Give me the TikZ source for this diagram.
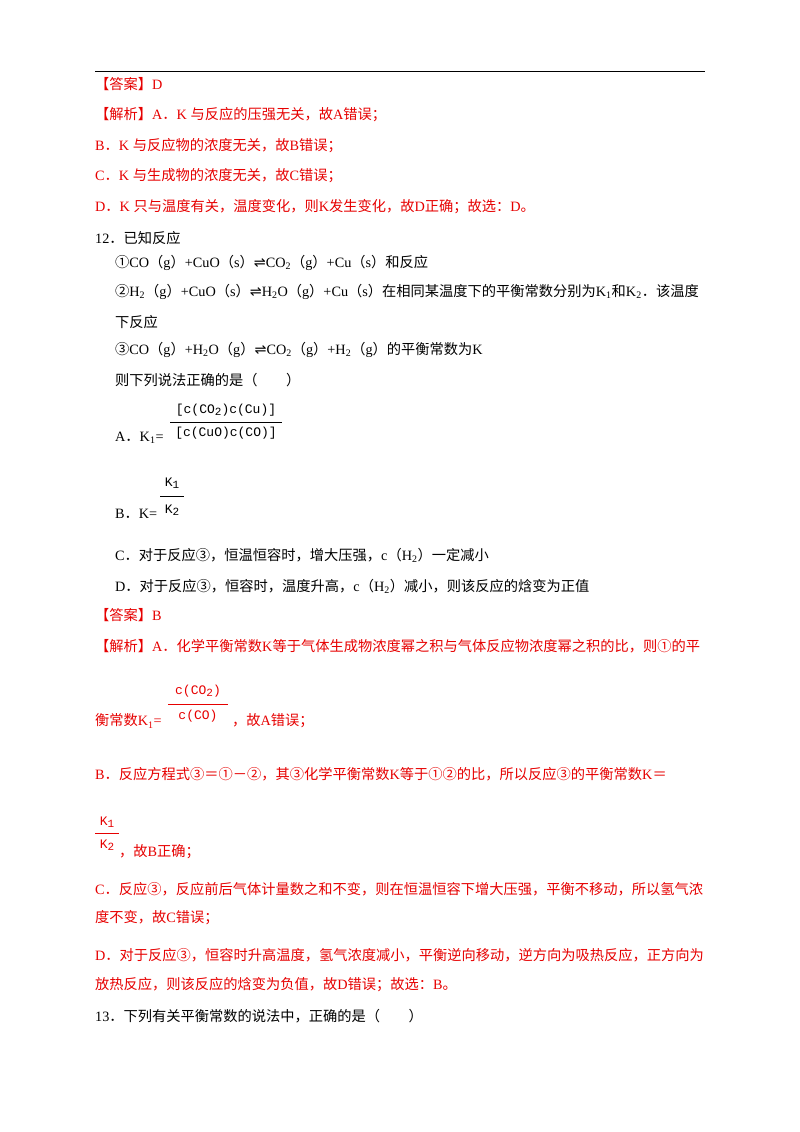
\documentclass[tikz,border=0pt]{standalone}
\usepackage{fontspec}
\setmainfont{Liberation Serif}
\newfontfamily\cjk{Noto Sans CJK SC}
\newfontfamily\dv{DejaVu Sans}
\newfontfamily\mono{Liberation Mono}
\newcommand\zh[1]{{\cjk #1}}
\newcommand\eqa{{\dv ⇌}}
\newcommand\sub[1]{\textsubscript{#1}}
\newcommand\msub[1]{\raisebox{-0.3ex}{\fontsize{11}{12}\selectfont #1}}
\definecolor{ans}{RGB}{230,0,0}
\begin{document}
\begin{tikzpicture}[x=1pt,y=-1pt,
  t/.style={anchor=west,inner sep=0pt,font=\fontsize{14.25}{17}\selectfont},
  r/.style={t,text=ans},
  fr/.style={inner sep=0pt,font=\mono\fontsize{13}{15}\selectfont}]
\useasboundingbox (0,0) rectangle (800,1132);
\draw[line width=0.8pt] (95,71) coordinate (l1) -- (705,71) coordinate (l2);
\node[r] (a1) at (95,84) {\zh{【答案】}D};
\node[r] (a2) at (95,115) {\zh{【解析】}A\zh{．}K \zh{与反应的压强无关，故}A\zh{错误；}};
\node[r] (a3) at (95,146) {B\zh{．}K \zh{与反应物的浓度无关，故}B\zh{错误；}};
\node[r] (a4) at (95,176) {C\zh{．}K \zh{与生成物的浓度无关，故}C\zh{错误；}};
\node[r] (a5) at (95,207) {D\zh{．}K \zh{只与温度有关，温度变化，则}K\zh{发生变化，故}D\zh{正确；故选：}D\zh{。}};
\node[t] (q1) at (95,238) {12\zh{．已知反应}};
\node[t] (q2) at (115,263) {\zh{①}CO\zh{（}g\zh{）}+CuO\zh{（}s\zh{）}\eqa CO\sub{2}\zh{（}g\zh{）}+Cu\zh{（}s\zh{）和反应}};
\node[t] (q3) at (115,292) {\zh{②}H\sub{2}\zh{（}g\zh{）}+CuO\zh{（}s\zh{）}\eqa H\sub{2}O\zh{（}g\zh{）}+Cu\zh{（}s\zh{）在相同某温度下的平衡常数分别为}K\sub{1}\zh{和}K\sub{2}\zh{．该温度}};
\node[t] (q4) at (115,322) {\zh{下反应}};
\node[t] (q5) at (115,350) {\zh{③}CO\zh{（}g\zh{）}+H\sub{2}O\zh{（}g\zh{）}\eqa CO\sub{2}\zh{（}g\zh{）}+H\sub{2}\zh{（}g\zh{）的平衡常数为}K};
\node[t] (q6) at (115,380) {\zh{则下列说法正确的是（\quad\quad）}};
\node[t] (oA) at (115,438) {A\zh{．}K\sub{1}=};
\draw (170,422) coordinate (fa1) -- (282,422) coordinate (fa2);
\node[fr] (nA) at (226,410) {[c(CO\msub{2})c(Cu)]};
\node[fr] (dA) at (226,433) {[c(CuO)c(CO)]};
\node[t] (oB) at (115,514) {B\zh{．}K=};
\draw (160,496) coordinate (fb1) -- (184,496) coordinate (fb2);
\node[fr] (nB) at (172,483) {K\msub{1}};
\node[fr] (dB) at (172,510) {K\msub{2}};
\node[t] (oC) at (115,555) {C\zh{．对于反应③，恒温恒容时，增大压强，}c\zh{（}H\sub{2}\zh{）一定减小}};
\node[t] (oD) at (115,586) {D\zh{．对于反应③，恒容时，温度升高，}c\zh{（}H\sub{2}\zh{）减小，则该反应的焓变为正值}};
\node[r] (b1) at (95,615) {\zh{【答案】}B};
\node[r] (b2) at (95,646) {\zh{【解析】}A\zh{．化学平衡常数}K\zh{等于气体生成物浓度幂之积与气体反应物浓度幂之积的比，则①的平}};
\draw[ans] (168,704) coordinate (fc1) -- (228,704) coordinate (fc2);
\node[fr,text=ans] (nC) at (198,691) {c(CO\msub{2})};
\node[fr,text=ans] (dC) at (198,716) {c(CO)};
\node[r] (b3) at (95,721) {\zh{衡常数}K\sub{1}=};
\node[r] (b3b) at (232,721) {\zh{，故}A\zh{错误；}};
\node[r] (b4) at (95,774) {B\zh{．反应方程式③＝①－②，其③化学平衡常数}K\zh{等于①②的比，所以反应③的平衡常数}K\zh{＝}};
\draw[ans] (95,833) coordinate (fd1) -- (119,833) coordinate (fd2);
\node[fr,text=ans] (nD) at (107,822) {K\msub{1}};
\node[fr,text=ans] (dD) at (107,845) {K\msub{2}};
\node[r] (b5) at (119,852) {\zh{，故}B\zh{正确；}};
\node[r] (b6) at (95,889) {C\zh{．反应③，反应前后气体计量数之和不变，则在恒温恒容下增大压强，平衡不移动，所以氢气浓}};
\node[r] (b7) at (95,918) {\zh{度不变，故}C\zh{错误；}};
\node[r] (b8) at (95,955) {D\zh{．对于反应③，恒容时升高温度，氢气浓度减小，平衡逆向移动，逆方向为吸热反应，正方向为}};
\node[r] (b9) at (95,985) {\zh{放热反应，则该反应的焓变为负值，故}D\zh{错误；故选：}B\zh{。}};
\node[t] (q13) at (95,1016) {13\zh{．下列有关平衡常数的说法中，正确的是（\quad\quad）}};
\end{tikzpicture}
\end{document}
